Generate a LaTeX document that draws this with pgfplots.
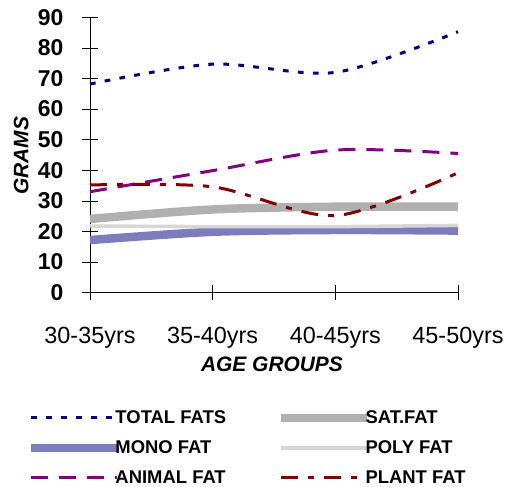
\documentclass[border=0pt]{standalone}
\usepackage{pgfplots}
\pgfplotsset{compat=1.18}
\usepackage{fontspec}
\setmainfont{Liberation Sans}
\definecolor{totc}{RGB}{0,0,128}
\definecolor{satc}{RGB}{176,176,176}
\definecolor{monoc}{RGB}{125,125,190}
\definecolor{polyc}{RGB}{214,214,214}
\definecolor{animc}{RGB}{128,0,128}
\definecolor{plantc}{RGB}{128,0,0}
\begin{document}
\begin{tikzpicture}
\useasboundingbox (-90bp,-194.3bp) rectangle (415bp,292.7bp);
\begin{axis}[
  at={(0,0)}, anchor=south west,
  scale only axis, width=368bp, height=275.4bp,
  xmin=0, xmax=3, ymin=0, ymax=90,
  clip=false,
  axis x line*=bottom, axis y line*=left,
  axis line style={black, line width=0.8pt},
  tick style={black, line width=0.8pt},
  tick align=center, major tick length=15bp,
  xtick={0,1,2,3},
  xticklabels={30-35yrs,35-40yrs,40-45yrs,45-50yrs},
  ytick={0,10,...,90},
  /pgf/number format/assume math mode=true,
  yticklabel style={font=\fontsize{23}{23}\selectfont\bfseries, anchor=east, inner sep=0pt, xshift=-19bp},
  xticklabel style={font=\fontsize{23.5}{23.5}\selectfont, anchor=base, inner sep=0pt, yshift=-43bp},
  xlabel={AGE GROUPS},
  xlabel style={font=\fontsize{21}{21}\selectfont\bfseries\itshape, at={(axis description cs:0.4946,-0.2869)}, anchor=base, inner sep=0pt},
  ylabel={GRAMS},
  ylabel style={font=\fontsize{21}{21}\selectfont\bfseries\itshape, at={(axis description cs:-0.1677,0.497)}, anchor=base, inner sep=0pt},
  legend columns=2,
  legend cell align=left,
  legend style={at={(axis description cs:-0.1712,-0.4285)}, anchor=north west, draw=none, fill=none, inner sep=0pt, outer sep=0pt, row sep=15.5bp,
    nodes={inner sep=0pt},
    font=\fontsize{18.5}{18.5}\selectfont\bfseries,
    /tikz/every even column/.append style={column sep=51bp},
    /tikz/every odd column/.append style={column sep=-6bp}},
  legend image code/.code={\draw[#1] (0bp,0bp) -- (86bp,0bp);},
]
\addplot[totc, line width=3bp, dash pattern=on 5.7bp off 9.3bp, smooth] coordinates {(0,68.2) (1,74.7) (2,72.0) (3,85.3)};
\addlegendentry{TOTAL FATS}
\addplot[satc, line width=8.5bp, smooth] coordinates {(0,24.1) (1,27.2) (2,28.1) (3,28.1)};
\addlegendentry{SAT.FAT}
\addplot[monoc, line width=8.5bp, smooth] coordinates {(0,17.2) (1,19.9) (2,20.5) (3,20.3)};
\addlegendentry{MONO FAT}
\addplot[polyc, line width=3.5bp, smooth] coordinates {(0,21.8) (1,21.6) (2,21.6) (3,22.0)};
\addlegendentry{POLY FAT}
\addplot[animc, line width=3bp, dash pattern=on 17bp off 11bp, smooth] coordinates {(0,33.0) (1,39.9) (2,46.6) (3,45.5)};
\addlegendentry{ANIMAL FAT}
\addplot[plantc, line width=3bp, dash pattern=on 17bp off 10bp on 6bp off 10bp, smooth] coordinates {(0,35.2) (1,34.6) (2,25.2) (3,39.2)};
\addlegendentry{PLANT FAT}
\end{axis}
\end{tikzpicture}
\end{document}
